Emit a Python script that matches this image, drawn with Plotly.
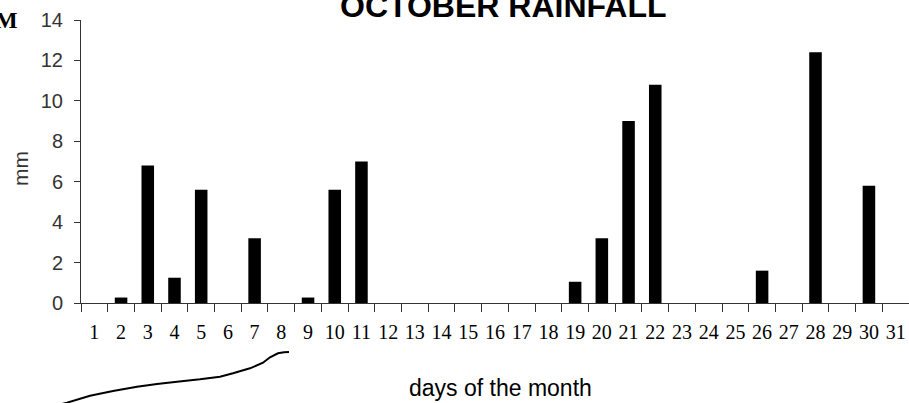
import plotly.graph_objects as go

days = [str(d) for d in range(1, 32)]
rain_mm = [0, 0.27, 6.8, 1.25, 5.6, 0, 3.2, 0, 0.27, 5.6, 7.0,
           0, 0, 0, 0, 0, 0, 0, 1.05, 3.2, 9.0, 10.8,
           0, 0, 0, 1.6, 0, 12.4, 0, 5.8, 0]
y_ticks = [0, 2, 4, 6, 8, 10, 12, 14]

W, H = 909, 403
L, R, T, B = 81, 0, 20, 100
pw, ph = W - L - R, H - T - B

def px(x, y):
    return ((x - L) / pw, (H - B - y) / ph)

curve_px = [(60, 404.5), (67, 402.7), (90, 395.7), (113, 391), (137, 386.7), (157, 384),
            (177, 381.7), (200, 379.3), (220, 376.7), (233, 373.3), (250, 368.3),
            (263, 362.7), (270, 357.3), (278, 353.3), (284, 352.2), (289, 352)]
pts = [px(x, y) for x, y in curve_px]
path = "M " + " L ".join(f"{a:.5f},{b:.5f}" for a, b in pts)

fig = go.Figure(go.Bar(x=days, y=rain_mm, marker=dict(color="black", line=dict(width=0)),
                       hoverinfo="skip"))

fig.update_layout(
    width=W, height=H,
    margin=dict(l=L, r=R, t=T, b=B, autoexpand=False),
    paper_bgcolor="white", plot_bgcolor="white",
    bargap=0.53,
    showlegend=False,
    xaxis=dict(type="category", range=[-0.5, 30.5], tickson="boundaries",
               ticks="outside", ticklen=8, tickcolor="#333", showline=True,
               linecolor="#333", linewidth=1, showgrid=False, zeroline=False,
               tickangle=0, automargin=False,
               tickfont=dict(family="Liberation Serif, Times New Roman, serif", size=20, color="black"),
               ticklabelstandoff=11),
    yaxis=dict(range=[0, 14], tickvals=y_ticks, ticks="outside", ticklen=6,
               tickcolor="#333", showline=True, linecolor="#333", linewidth=1,
               showgrid=False, zeroline=False, automargin=False,
               tickfont=dict(family="Liberation Sans Narrow, Arial Narrow, sans-serif", size=20, color="#333"),
               ticklabelstandoff=7),
    font=dict(family="Liberation Sans, Arial, sans-serif", color="black"),
)

fig.add_annotation(text="<b>OCTOBER RAINFALL</b>", xref="paper", yref="paper",
                   x=(503.5 - L) / pw, y=(H - B - 5.5) / ph, xanchor="center", yanchor="middle",
                   showarrow=False, font=dict(family="Liberation Sans, Arial, sans-serif", size=32, color="black"))
fig.add_annotation(text="days of the month", xref="paper", yref="paper",
                   x=(500 - L) / pw, y=(H - B - 388) / ph, xanchor="center", yanchor="middle",
                   showarrow=False, font=dict(family="Liberation Sans, Arial, sans-serif", size=23, color="black"))
fig.add_annotation(text="mm", xref="paper", yref="paper", textangle=-90,
                   x=(20 - L) / pw, y=(H - B - 169) / ph, xanchor="center", yanchor="middle",
                   showarrow=False, font=dict(family="Liberation Sans, Arial, sans-serif", size=21, color="#333"))
fig.add_annotation(text="<b>M</b>", xref="paper", yref="paper",
                   x=(6 - L) / pw, y=(H - B - 20) / ph, xanchor="center", yanchor="middle",
                   showarrow=False, font=dict(family="Liberation Serif, Times New Roman, serif", size=24, color="black"))

fig.add_shape(type="path", path=path, xref="paper", yref="paper",
              line=dict(color="black", width=2))

fig.write_html("out.html", config={"displayModeBar": False, "staticPlot": True},
               post_script="document.body.style.margin='0';document.body.style.overflow='hidden';")
